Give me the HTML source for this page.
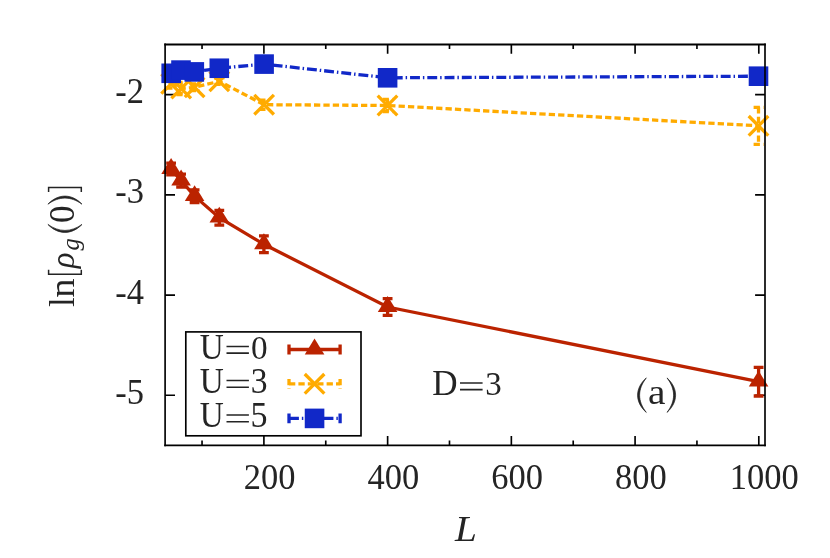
<!DOCTYPE html>
<html><head><meta charset="utf-8"><title>plot</title>
<style>html,body{margin:0;padding:0;background:#fff;}body{width:830px;height:558px;overflow:hidden;}svg{display:block;will-change:transform;}text{font-family:"Liberation Serif",serif;fill:#242424;}</style>
</head><body>
<svg width="830" height="558" viewBox="0 0 830 558">
<rect x="0" y="0" width="830" height="558" fill="#ffffff"/>
<g stroke="#000" stroke-width="1.65" fill="none" stroke-linecap="butt">
<path d="M263.90 445.20V435.90M263.90 44.40V53.70"/>
<path d="M387.63 445.20V435.90M387.63 44.40V53.70"/>
<path d="M511.35 445.20V435.90M511.35 44.40V53.70"/>
<path d="M635.08 445.20V435.90M635.08 44.40V53.70"/>
<path d="M758.80 445.20V435.90M758.80 44.40V53.70"/>
<path d="M202.04 445.20V440.60M202.04 44.40V49.00"/>
<path d="M325.76 445.20V440.60M325.76 44.40V49.00"/>
<path d="M449.49 445.20V440.60M449.49 44.40V49.00"/>
<path d="M573.21 445.20V440.60M573.21 44.40V49.00"/>
<path d="M696.94 445.20V440.60M696.94 44.40V49.00"/>
<path d="M165.10 94.60H175.00M765.00 94.60H755.10"/>
<path d="M165.10 194.83H175.00M765.00 194.83H755.10"/>
<path d="M165.10 295.06H175.00M765.00 295.06H755.10"/>
<path d="M165.10 395.29H175.00M765.00 395.29H755.10"/>
</g>
<polyline points="171.10,169.00 181.10,180.60 194.60,196.20 219.30,217.70 263.90,244.30 387.60,307.00 758.60,381.70" stroke="#BB2300" stroke-width="3.30" fill="none" stroke-linejoin="miter"/>
<path d="M171.10 163.20V174.80M166.20 163.20H176.00M166.20 174.80H176.00M181.10 174.20V187.00M176.20 174.20H186.00M176.20 187.00H186.00M194.60 189.80V202.60M189.70 189.80H199.50M189.70 202.60H199.50M219.30 210.35V225.05M214.40 210.35H224.20M214.40 225.05H224.20M263.90 235.90V252.70M259.00 235.90H268.80M259.00 252.70H268.80M387.60 298.55V315.45M382.70 298.55H392.50M382.70 315.45H392.50M758.60 367.40V396.00M753.70 367.40H763.50M753.70 396.00H763.50" stroke="#BB2300" stroke-width="3.30" fill="none"/>
<path d="M171.10 158.02L161.30 173.90L180.90 173.90Z" fill="#BB2300"/>
<path d="M181.10 169.62L171.30 185.50L190.90 185.50Z" fill="#BB2300"/>
<path d="M194.60 185.22L184.80 201.10L204.40 201.10Z" fill="#BB2300"/>
<path d="M219.30 206.72L209.50 222.60L229.10 222.60Z" fill="#BB2300"/>
<path d="M263.90 233.32L254.10 249.20L273.70 249.20Z" fill="#BB2300"/>
<path d="M387.60 296.02L377.80 311.90L397.40 311.90Z" fill="#BB2300"/>
<path d="M758.60 370.72L748.80 386.60L768.40 386.60Z" fill="#BB2300"/>
<polyline points="171.10,83.90 181.20,88.50 194.60,87.30 219.30,81.30 264.10,104.70 387.50,105.50 758.50,125.80" stroke="#FFAB00" stroke-width="3.30" fill="none" stroke-linejoin="miter" stroke-dasharray="6.3 3.1" stroke-dashoffset="0.00"/>
<path d="M171.10 79.80V88.00M166.20 79.80H176.00M166.20 88.00H176.00M181.20 82.35V94.65M176.30 82.35H186.10M176.30 94.65H186.10M194.60 84.00V90.60M189.70 84.00H199.50M189.70 90.60H199.50M219.30 78.30V84.30M214.40 78.30H224.20M214.40 84.30H224.20M264.10 100.10V109.30M259.20 100.10H269.00M259.20 109.30H269.00M387.50 99.30V111.70M382.60 99.30H392.40M382.60 111.70H392.40M758.50 107.30V144.30M753.60 107.30H763.40M753.60 144.30H763.40" stroke="#FFAB00" stroke-width="3.30" fill="none" stroke-dasharray="6.3 3.1"/>
<path d="M161.30 74.10L180.90 93.70M161.30 93.70L180.90 74.10" stroke="#FFAB00" stroke-width="3.30" fill="none"/>
<path d="M171.40 78.70L191.00 98.30M171.40 98.30L191.00 78.70" stroke="#FFAB00" stroke-width="3.30" fill="none"/>
<path d="M184.80 77.50L204.40 97.10M184.80 97.10L204.40 77.50" stroke="#FFAB00" stroke-width="3.30" fill="none"/>
<path d="M209.50 71.50L229.10 91.10M209.50 91.10L229.10 71.50" stroke="#FFAB00" stroke-width="3.30" fill="none"/>
<path d="M254.30 94.90L273.90 114.50M254.30 114.50L273.90 94.90" stroke="#FFAB00" stroke-width="3.30" fill="none"/>
<path d="M377.70 95.70L397.30 115.30M377.70 115.30L397.30 95.70" stroke="#FFAB00" stroke-width="3.30" fill="none"/>
<path d="M748.70 116.00L768.30 135.60M748.70 135.60L768.30 116.00" stroke="#FFAB00" stroke-width="3.30" fill="none"/>
<polyline points="171.20,73.30 181.00,70.10 194.30,71.90 219.30,68.25 264.10,64.10 387.60,77.80 758.50,76.20" stroke="#1128C8" stroke-width="3.30" fill="none" stroke-linejoin="miter" stroke-dasharray="9.9 2.95 1.46 2.95" stroke-dashoffset="0.95"/>
<rect x="161.40" y="63.50" width="19.60" height="19.60" fill="#1128C8"/>
<rect x="171.20" y="60.30" width="19.60" height="19.60" fill="#1128C8"/>
<rect x="184.50" y="62.10" width="19.60" height="19.60" fill="#1128C8"/>
<rect x="209.50" y="58.45" width="19.60" height="19.60" fill="#1128C8"/>
<rect x="254.30" y="54.30" width="19.60" height="19.60" fill="#1128C8"/>
<rect x="377.80" y="68.00" width="19.60" height="19.60" fill="#1128C8"/>
<rect x="748.70" y="66.40" width="19.60" height="19.60" fill="#1128C8"/>
<rect x="185.80" y="331.90" width="175.20" height="103.90" fill="#fff" stroke="#000" stroke-width="1.65"/>
<path d="M289.00 349.50H340.10M289.00 344.60V354.40M340.10 344.60V354.40" stroke="#BB2300" stroke-width="3.30" fill="none"/>
<path d="M314.55 338.52L304.75 354.40L324.35 354.40Z" fill="#BB2300"/>
<path d="M289.00 383.80H340.10M289.00 378.90V388.70M340.10 378.90V388.70" stroke="#FFAB00" stroke-width="3.30" fill="none" stroke-dasharray="6.3 3.1"/>
<path d="M304.75 374.00L324.35 393.60M304.75 393.60L324.35 374.00" stroke="#FFAB00" stroke-width="3.30" fill="none"/>
<path d="M289.00 418.40H340.10M289.00 413.50V423.30M340.10 413.50V423.30" stroke="#1128C8" stroke-width="3.30" fill="none" stroke-dasharray="9.9 2.95 1.46 2.95"/>
<rect x="304.75" y="408.60" width="19.60" height="19.60" fill="#1128C8"/>
<path d="M165.10 43.57V446.22M765.00 43.57V446.22" fill="none" stroke="#000" stroke-width="1.65"/>
<path d="M164.28 44.50H765.83M164.28 445.40H765.83" fill="none" stroke="#000" stroke-width="1.85"/>
<text transform="translate(143.90 103.15) scale(0.9850 1.0000)" font-size="35.00" text-anchor="end">-2</text>
<text transform="translate(143.90 203.38) scale(0.9850 1.0000)" font-size="35.00" text-anchor="end">-3</text>
<text transform="translate(143.90 303.61) scale(0.9850 1.0000)" font-size="35.00" text-anchor="end">-4</text>
<text transform="translate(143.90 403.84) scale(0.9850 1.0000)" font-size="35.00" text-anchor="end">-5</text>
<text transform="translate(243.80 489.10) scale(0.9850 1.0000)" font-size="35.00" text-anchor="start">200</text>
<text transform="translate(367.53 489.10) scale(0.9850 1.0000)" font-size="35.00" text-anchor="start">400</text>
<text transform="translate(491.25 489.10) scale(0.9850 1.0000)" font-size="35.00" text-anchor="start">600</text>
<text transform="translate(614.98 489.10) scale(0.9850 1.0000)" font-size="35.00" text-anchor="start">800</text>
<text transform="translate(729.80 489.10) scale(0.9850 1.0000)" font-size="35.00" text-anchor="start">1000</text>
<text transform="translate(455.06 540.60) scale(1.1253 1.0298)" font-size="35.00" font-style="italic">L</text>
<text transform="translate(199.70 358.60) scale(0.9493 1.0254)" font-size="35.00">U</text>
<path d="M226.50 346.45H248.90M226.50 353.15H248.90" stroke="#242424" stroke-width="1.60" fill="none"/>
<text transform="translate(251.03 358.60) scale(0.9505 0.9924)" font-size="35.00">0</text>
<text transform="translate(199.70 392.70) scale(0.9493 1.0254)" font-size="35.00">U</text>
<path d="M226.50 380.55H248.90M226.50 387.25H248.90" stroke="#242424" stroke-width="1.60" fill="none"/>
<text transform="translate(250.69 392.70) scale(0.9614 0.9968)" font-size="35.00">3</text>
<text transform="translate(199.70 427.20) scale(0.9493 1.0254)" font-size="35.00">U</text>
<path d="M226.50 415.05H248.90M226.50 421.75H248.90" stroke="#242424" stroke-width="1.60" fill="none"/>
<text transform="translate(250.52 427.20) scale(0.9717 1.0080)" font-size="35.00">5</text>
<text transform="translate(432.19 395.10) scale(1.0015 1.0298)" font-size="35.00">D</text>
<path d="M460.00 382.95H482.60M460.00 389.65H482.60" stroke="#242424" stroke-width="1.60" fill="none"/>
<text transform="translate(485.22 395.10) scale(0.9407 0.9796)" font-size="35.00">3</text>
<path d="M646.30 377.90C634.70 388.25 634.70 402.05 646.30 412.40C637.37 401.01 637.37 389.28 646.30 377.90Z" fill="#242424" stroke="#242424" stroke-width="0.7" stroke-linejoin="round"/>
<text transform="translate(648.02 404.00) scale(1.1211 1.0000)" font-size="35.00">a</text>
<path d="M667.00 377.90C678.47 388.25 678.47 402.05 667.00 412.40C675.80 401.01 675.80 389.28 667.00 377.90Z" fill="#242424" stroke="#242424" stroke-width="0.7" stroke-linejoin="round"/>
<g transform="translate(73.8 400) rotate(-90)">
<text transform="translate(92.90 0.00) scale(1.000 1.000)" font-size="35.00">l</text>
<text transform="translate(102.20 0.00) scale(1.100 1.000)" font-size="35.00">n</text>
<path d="M130.20 -25.20H125.75V7.50H130.20" fill="none" stroke="#242424" stroke-width="1.50"/>
<text transform="translate(131.80 0.00) scale(0.940 0.970)" font-size="35.00" font-style="italic">ρ</text>
<text transform="translate(149.60 5.30) scale(1.000 1.000)" font-size="24.50" font-style="italic">g</text>
<path d="M175.60 -25.90C164.93 -15.67 164.93 -2.03 175.60 8.20C167.60 -3.05 167.60 -14.65 175.60 -25.90Z" fill="#242424" stroke="#242424" stroke-width="0.7" stroke-linejoin="round"/>
<text transform="translate(176.90 0.00) scale(1.000 1.000)" font-size="35.00">0</text>
<path d="M195.80 -25.90C206.60 -15.67 206.60 -2.03 195.80 8.20C203.93 -3.05 203.93 -14.65 195.80 -25.90Z" fill="#242424" stroke="#242424" stroke-width="0.7" stroke-linejoin="round"/>
<path d="M208.10 -25.20H212.55V7.50H208.10" fill="none" stroke="#242424" stroke-width="1.50"/>
</g>
</svg>
</body></html>
